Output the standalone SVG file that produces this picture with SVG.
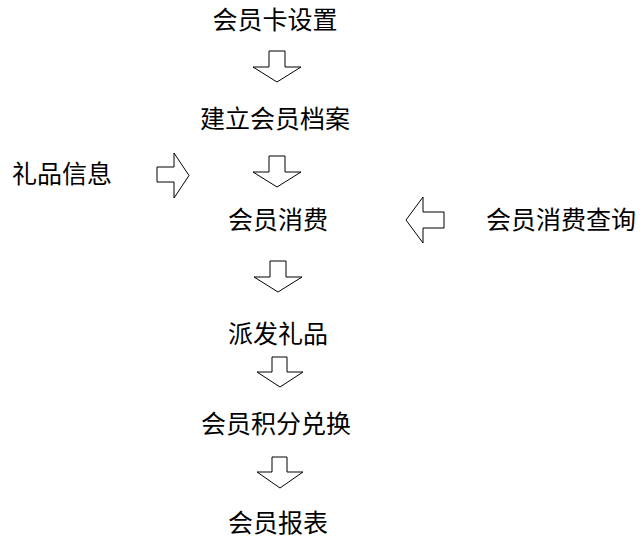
<svg xmlns="http://www.w3.org/2000/svg" width="644" height="539" viewBox="0 0 644 539">
<style>
.t{font-family:"Noto Sans CJK SC","Noto Sans",sans-serif;font-size:25px;fill:#000;}
.m{text-anchor:middle;}
.a{fill:#fff;stroke:#000;stroke-width:1;stroke-linejoin:miter;}
</style>
<rect width="644" height="539" fill="#fff"/>
<g id="n1"><text class="t m" x="275" y="29">会员卡设置</text></g>
<g id="n2"><text class="t m" x="275" y="128">建立会员档案</text></g>
<g id="n3"><text class="t m" x="278" y="229">会员消费</text></g>
<g id="n4"><text class="t m" x="278" y="343">派发礼品</text></g>
<g id="n5"><text class="t m" x="276" y="433">会员积分兑换</text></g>
<g id="n6"><text class="t m" x="278" y="532">会员报表</text></g>
<g id="n7"><text class="t" x="12" y="183">礼品信息</text></g>
<g id="n8"><text class="t" x="486" y="229">会员消费查询</text></g>
<g id="connectors">
<path class="a" d="M269,51 H285 V67 H301 L277,82 L253,67 H269 Z"/>
<path class="a" d="M269,156 H285 V172 H301 L277,187 L253,172 H269 Z"/>
<path class="a" d="M270,261 H286 V277 H302 L278,292 L254,277 H270 Z"/>
<path class="a" d="M272,357 H287 V372 H303 L280,387 L257,372 H272 Z"/>
<path class="a" d="M272,457 H287 V472 H303 L280,488 L257,472 H272 Z"/>
<path class="a" d="M157,167 H174 V153 L189,175.5 L174,198 V182 H157 Z"/>
<path class="a" d="M444,212 H423 V197 L406,220 L423,243 V228 H444 Z"/>
</g>
</svg>
